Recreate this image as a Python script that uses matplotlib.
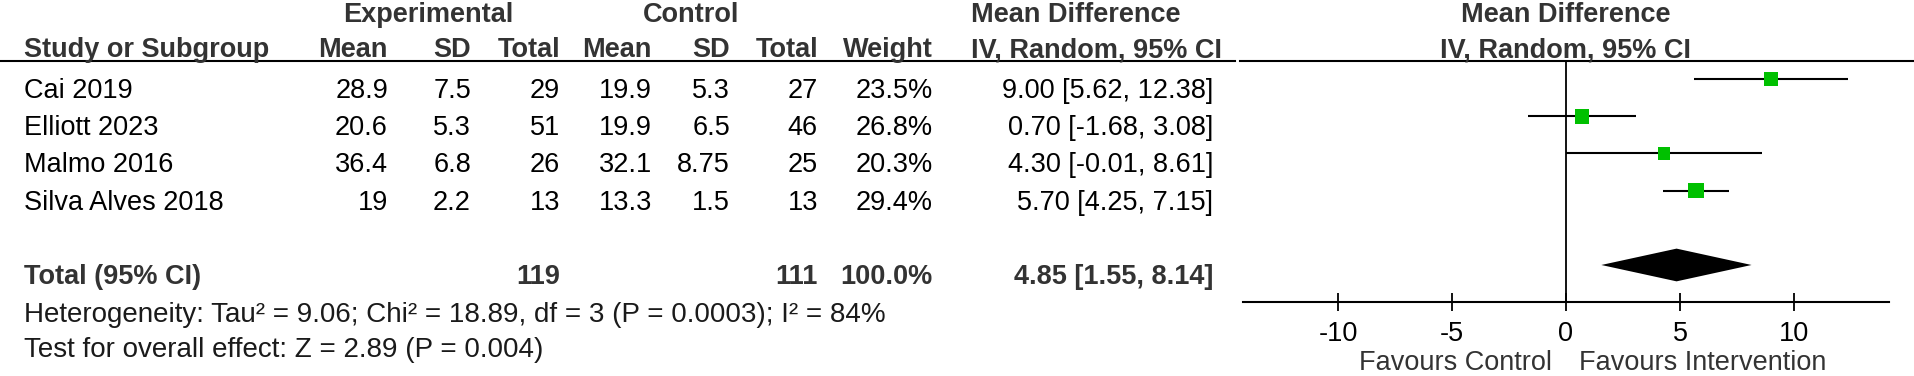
import numpy as np
import matplotlib
matplotlib.use("Agg")
import matplotlib.pyplot as plt

# study data
studies = ["Cai 2019", "Elliott 2023", "Malmo 2016", "Silva Alves 2018"]
exp_mean = [28.9, 20.6, 36.4, 19]
exp_sd = [7.5, 5.3, 6.8, 2.2]
exp_n = [29, 51, 26, 13]
ctl_mean = [19.9, 19.9, 32.1, 13.3]
ctl_sd = [5.3, 6.5, 8.75, 1.5]
ctl_n = [27, 46, 25, 13]
weight = [23.5, 26.8, 20.3, 29.4]
md = [9.00, 0.70, 4.30, 5.70]
ci_lo = [5.62, -1.68, -0.01, 4.25]
ci_hi = [12.38, 3.08, 8.61, 7.15]

# pooled
total_exp_n = 119
total_ctl_n = 111
total_weight = 100.0
total_md = 4.85
total_lo = 1.55
total_hi = 8.14

xticks = [-10, -5, 0, 5, 10]
heterogeneity = "Heterogeneity: Tau² = 9.06; Chi² = 18.89, df = 3 (P = 0.0003); I² = 84%"
overall = "Test for overall effect: Z = 2.89 (P = 0.004)"

plt.rcParams['font.family'] = ['Liberation Sans', 'DejaVu Sans']
FS = 19.5
W, H = 1915, 376
head = '#333333'

fig = plt.figure(figsize=(W / 100, H / 100), dpi=100)

# table drawn in pixel coordinates
tab = fig.add_axes([0, 0, 1, 1])
tab.set_xlim(0, W)
tab.set_ylim(H, 0)
tab.axis('off')

def t(x, y, s, ha='right', bold=False, color='black', size=FS):
    tab.text(x, y, s, ha=ha, va='baseline', fontsize=size,
             fontweight='bold' if bold else 'normal', color=color)

# group headers
t(428, 22, 'Experimental', ha='center', bold=True, color=head)
t(691, 22, 'Control', ha='center', bold=True, color=head)
t(971, 22, 'Mean Difference', ha='left', bold=True, color=head)
t(1566, 22, 'Mean Difference', ha='center', bold=True, color=head)

# column headers
t(24, 57, 'Study or Subgroup', ha='left', bold=True, color=head)
for x, s in [(388, 'Mean'), (471, 'SD'), (560, 'Total'), (652, 'Mean'),
             (730, 'SD'), (818, 'Total'), (933, 'Weight')]:
    t(x, 57, s, bold=True, color=head)
t(971, 57, 'IV, Random, 95% CI', ha='left', bold=True, color=head)
t(1566, 57, 'IV, Random, 95% CI', ha='center', bold=True, color=head)

tab.plot([0, 1235], [61, 61], color='black', lw=1.5)
tab.plot([1240, W], [61, 61], color='black', lw=1.5)

# study rows
for i, name in enumerate(studies):
    y = 98 + 37.2 * i
    t(24, y, name, ha='left')
    t(388, y, f"{exp_mean[i]:g}")
    t(471, y, f"{exp_sd[i]:g}")
    t(560, y, f"{exp_n[i]}")
    t(652, y, f"{ctl_mean[i]:g}")
    t(730, y, f"{ctl_sd[i]:g}")
    t(818, y, f"{ctl_n[i]}")
    t(933, y, f"{weight[i]:.1f}%")
    t(1213, y, f"{md[i]:.2f} [{ci_lo[i]:.2f}, {ci_hi[i]:.2f}]")

# total row
yt = 98 + 37.2 * 5
t(24, yt, 'Total (95% CI)', ha='left', bold=True, color=head)
t(560, yt, f"{total_exp_n}", bold=True, color=head)
t(818, yt, f"{total_ctl_n}", bold=True, color=head)
t(933, yt, f"{total_weight:.1f}%", bold=True, color=head)
t(1213, yt, f"{total_md:.2f} [{total_lo:.2f}, {total_hi:.2f}]", bold=True, color=head)

t(24, 322, heterogeneity, ha='left', color='#1a1a1a', size=20)
t(24, 357, overall, ha='left', color='#1a1a1a', size=20)

t(1552, 370, 'Favours Control', color=head)
t(1579, 370, 'Favours Intervention', ha='left', color=head)

# forest plot
ax = fig.add_axes([1243 / W, (H - 302) / H, (1889 - 1243) / W, (302 - 61) / H])
ax.patch.set_alpha(0)
ax.set_xlim(-14.17, 14.17)
ax.set_ylim(5.995, -0.484)

rows = np.arange(len(studies))
ax.axvline(0, color='black', lw=1.3, zorder=1)
ax.hlines(rows, ci_lo, ci_hi, color='black', lw=1.5, zorder=2)
# square side grows with study weight
side = 11.2 * np.sqrt(np.array(weight) / 29.4)
ax.scatter(md, rows, marker='s', s=side ** 2, color='#00c000', linewidths=0, zorder=3)

h = 0.44
ax.fill([total_lo, total_md, total_hi, total_md], [5, 5 - h, 5, 5 + h],
        color='black', lw=0, zorder=3)

ax.set_xticks(xticks)
ax.set_xticklabels([str(v) for v in xticks])
ax.tick_params(axis='x', direction='inout', length=13, width=1.3, pad=7,
               labelsize=FS, colors='black')
ax.set_yticks([])
for side_name in ['top', 'left', 'right']:
    ax.spines[side_name].set_visible(False)
ax.spines['bottom'].set_linewidth(1.5)

fig.savefig('out.png', dpi=100)
